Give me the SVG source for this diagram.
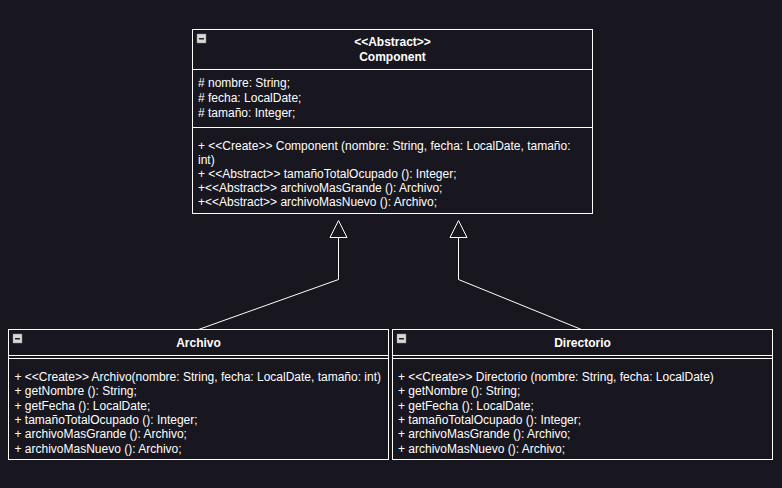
<svg xmlns="http://www.w3.org/2000/svg" width="782" height="488" viewBox="0 0 782 488">
<defs>
<style>
.box{fill:#18161e;stroke:#ffffff;stroke-width:1}
.div{stroke:#ffffff;stroke-width:1}
.t{font-family:"Liberation Sans",Arial,sans-serif;font-size:12px;fill:#ffffff}
.b{font-weight:bold;text-anchor:middle}
.edge{fill:none;stroke:#ffffff;stroke-width:1}
.tri{fill:#18161e;stroke:#ffffff;stroke-width:1}
.ic{fill:#d8d8d8;stroke:#8a8a8a;stroke-width:0.5}
.icm{fill:#222222}
</style>
</defs>
<rect x="0" y="0" width="782" height="488" fill="#18161e"/>
<g id="connectors">
<path class="edge" d="M198.5 329.5 L338.5 279.5 L338.5 237.5"/>
<path class="tri" d="M338.5 220.5 L347 237.5 L330 237.5 Z"/>
<path class="edge" d="M581.5 329.5 L458.5 279.5 L458.5 237.5"/>
<path class="tri" d="M458.5 220.5 L467 237.5 L450 237.5 Z"/>
</g>
<g id="component">
<rect class="box" x="192.5" y="29.5" width="400" height="184"/>
<line class="div" x1="192.5" y1="69.5" x2="592.5" y2="69.5"/>
<line class="div" x1="192.5" y1="127.5" x2="592.5" y2="127.5"/>
<rect class="ic" x="197" y="34" width="9" height="9"/>
<rect class="icm" x="199" y="38" width="5" height="1.5"/>
<text class="t b" x="392.5" y="46">&lt;&lt;Abstract&gt;&gt;</text>
<text class="t b" x="392.5" y="60.5">Component</text>
<text class="t" x="198" y="87.3"># nombre: String;</text>
<text class="t" x="198" y="102"># fecha: LocalDate;</text>
<text class="t" x="198" y="116.7"># tamaño: Integer;</text>
<text class="t" x="198" y="149.7">+ &lt;&lt;Create&gt;&gt; Component (nombre: String, fecha: LocalDate, tamaño:</text>
<text class="t" x="198" y="163.5">int)</text>
<text class="t" x="198" y="178">+ &lt;&lt;Abstract&gt;&gt; tamañoTotalOcupado (): Integer;</text>
<text class="t" x="198" y="192">+&lt;&lt;Abstract&gt;&gt; archivoMasGrande (): Archivo;</text>
<text class="t" x="198" y="206.3">+&lt;&lt;Abstract&gt;&gt; archivoMasNuevo (): Archivo;</text>
</g>
<g id="archivo">
<rect class="box" x="8.5" y="329.5" width="380" height="130"/>
<line class="div" x1="8.5" y1="355.5" x2="388.5" y2="355.5"/>
<line class="div" x1="8.5" y1="358.5" x2="388.5" y2="358.5"/>
<rect class="ic" x="13" y="334" width="9" height="9"/>
<rect class="icm" x="15" y="338" width="5" height="1.5"/>
<text class="t b" x="198.5" y="346.7">Archivo</text>
<text class="t" x="14.5" y="381">+ &lt;&lt;Create&gt;&gt; Archivo(nombre: String, fecha: LocalDate, tamaño: int)</text>
<text class="t" x="14.5" y="395.3">+ getNombre (): String;</text>
<text class="t" x="14.5" y="409.7">+ getFecha (): LocalDate;</text>
<text class="t" x="14.5" y="424">+ tamañoTotalOcupado (): Integer;</text>
<text class="t" x="14.5" y="438.3">+ archivoMasGrande (): Archivo;</text>
<text class="t" x="14.5" y="452.7">+ archivoMasNuevo (): Archivo;</text>
</g>
<g id="directorio">
<rect class="box" x="392.5" y="329.5" width="380" height="130"/>
<line class="div" x1="392.5" y1="355.5" x2="772.5" y2="355.5"/>
<line class="div" x1="392.5" y1="358.5" x2="772.5" y2="358.5"/>
<rect class="ic" x="397" y="334" width="9" height="9"/>
<rect class="icm" x="399" y="338" width="5" height="1.5"/>
<text class="t b" x="582.5" y="346.7">Directorio</text>
<text class="t" x="398" y="381">+ &lt;&lt;Create&gt;&gt; Directorio (nombre: String, fecha: LocalDate)</text>
<text class="t" x="398" y="395.3">+ getNombre (): String;</text>
<text class="t" x="398" y="409.7">+ getFecha (): LocalDate;</text>
<text class="t" x="398" y="424">+ tamañoTotalOcupado (): Integer;</text>
<text class="t" x="398" y="438.3">+ archivoMasGrande (): Archivo;</text>
<text class="t" x="398" y="452.7">+ archivoMasNuevo (): Archivo;</text>
</g>
</svg>
